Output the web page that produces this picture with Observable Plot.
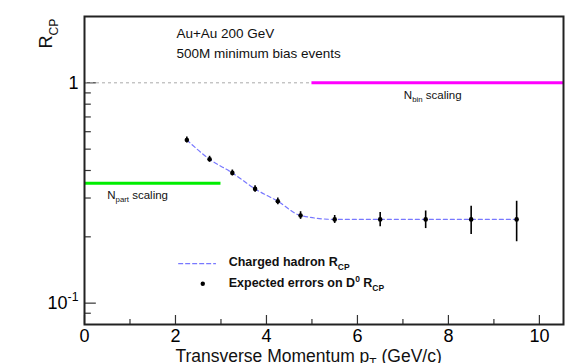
<!DOCTYPE html>
<html><head><meta charset="utf-8">
<script src="https://cdn.jsdelivr.net/npm/d3@7"></script>
<script src="https://cdn.jsdelivr.net/npm/@observablehq/plot@0.6"></script>
<style>body{margin:0;background:#fff;} svg{display:block;}</style>
</head><body><div id="chart"></div>
<script>
// ---- data ----
const pt   = [2.25, 2.75, 3.25, 3.75, 4.25, 4.75, 5.5, 6.5, 7.5, 8.5, 9.5];
const rcp  = [0.55, 0.45, 0.39, 0.33, 0.29, 0.25, 0.24, 0.24, 0.24, 0.24, 0.24];
const err  = [0.017, 0.014, 0.012, 0.011, 0.010, 0.010, 0.010, 0.018, 0.022, 0.035, 0.050];
const xTicksMajor = [0, 2, 4, 6, 8, 10];
const xTicksMinor = [1, 3, 5, 7, 9];
const yTicksMajor = [0.1, 1];
const yTicksMinor = [0.09, 0.2, 0.3, 0.4, 0.5, 0.6, 0.7, 0.8, 0.9];
const npartLevel = 0.35, npartFrom = 0, npartTo = 3;
const nbinLevel = 1, nbinFrom = 5, nbinTo = 10.53, refFrom = 0;
const xDomain = [0, 10.53];
const yDomain = [0.08, 2.0];

const data = pt.map((x, i) => ({x, y: rcp[i], e: err[i]}));

const font = "Liberation Sans, Arial, Helvetica, sans-serif";
const yMin = yDomain[0];
const logUp = (px) => yMin * Math.pow(10, px / 220); // tick length above the bottom frame

const plot = Plot.plot({
  width: 583, height: 363,
  marginLeft: 84, marginRight: 20, marginTop: 16, marginBottom: 39,
  style: {fontFamily: font, fontSize: "13px", background: "white", color: "black"},
  x: {domain: xDomain},
  y: {type: "log", domain: yDomain},
  marks: [
    // axes labels
    Plot.axisX({ticks: xTicksMajor, tickSize: 0, tickPadding: 5, fontSize: 18, label: null}),
    Plot.axisY({ticks: yTicksMajor, tickSize: 0, tickPadding: 6, fontSize: 18, label: null,
                tickFormat: d => d === 1 ? "1" : "10^{-1}"}),
    // inner ticks
    Plot.ruleY(yTicksMajor, {y: d => d, x1: 0, x2: 0.26, stroke: "#333", strokeWidth: 1.2}),
    Plot.ruleY(yTicksMinor, {y: d => d, x1: 0, x2: 0.15, stroke: "#333", strokeWidth: 1.2}),
    Plot.ruleX(xTicksMajor, {x: d => d, y1: yMin, y2: logUp(9), stroke: "#333", strokeWidth: 1.2}),
    Plot.ruleX(xTicksMinor, {x: d => d, y1: yMin, y2: logUp(5), stroke: "#333", strokeWidth: 1.2}),
    // reference lines
    Plot.ruleY([nbinLevel], {x1: refFrom, x2: nbinFrom, stroke: "#aaa", strokeDasharray: "3,3", strokeWidth: 1}),
    Plot.ruleY([nbinLevel], {x1: nbinFrom, x2: nbinTo, stroke: "#ff00ff", strokeWidth: 3}),
    Plot.ruleY([npartLevel], {x1: npartFrom, x2: npartTo, stroke: "#00ee00", strokeWidth: 3}),
    // charged hadron curve
    Plot.line(data, {x: "x", y: "y", curve: "monotone-x", stroke: "#7878ff", strokeDasharray: "4,3", strokeWidth: 1.2}),
    // expected errors
    Plot.ruleX(data, {x: "x", y1: d => d.y - d.e, y2: d => d.y + d.e, stroke: "black", strokeWidth: 1.6}),
    Plot.dot(data, {x: "x", y: "y", r: 2.3, fill: "black", stroke: "none"}),
    // annotations
    Plot.text(["Au+Au 200 GeV"], {x: 2.02, y: 1.68, textAnchor: "start", fontSize: 13.5, fill: "#111"}),
    Plot.text(["500M minimum bias events"], {x: 2.02, y: 1.36, textAnchor: "start", fontSize: 13.5, fill: "#111"}),
    Plot.text(["N_{part} scaling"], {x: 0.5, y: 0.31, textAnchor: "start", fontSize: 11.5, fill: "#111"}),
    Plot.text(["N_{bin} scaling"], {x: 7.02, y: 0.88, textAnchor: "start", fontSize: 11.5, fill: "#111"}),
    // legend
    Plot.line([[2.07, 0.151], [2.88, 0.151]], {stroke: "#7878ff", strokeDasharray: "4,3", strokeWidth: 1.2}),
    Plot.dot([[2.6, 0.1225]], {r: 2.2, fill: "black", stroke: "none"}),
    Plot.text(["Charged hadron R_{CP}"], {x: 3.17, y: 0.153, textAnchor: "start", fontSize: 12.5, fontWeight: "bold", fill: "#111"}),
    Plot.text(["Expected errors on D^{0} R_{CP}"], {x: 3.17, y: 0.1235, textAnchor: "start", fontSize: 12.5, fontWeight: "bold", fill: "#111"}),
    // axis titles
    Plot.text(["Transverse Momentum p_{T} (GeV/c)"], {x: 2.0, frameAnchor: "bottom", lineAnchor: "top", dy: 25, textAnchor: "start", fontSize: 17.5, fill: "#111"}),
    Plot.text(["R_{CP}"], {frameAnchor: "top-left", rotate: -90, textAnchor: "end", dx: -45, dy: 2, fontSize: 18, fill: "#111"}),
    Plot.frame({stroke: "#222", strokeWidth: 2})
  ]
});
document.getElementById("chart").appendChild(plot);

// turn _{..} and ^{..} into sub/superscript tspans
function richify(svg) {
  const NS = "http://www.w3.org/2000/svg";
  svg.querySelectorAll("text").forEach(t => {
    const els = t.querySelectorAll("tspan").length ? [...t.querySelectorAll("tspan")] : [t];
    els.forEach(el => {
      const s = el.textContent;
      if (!/[_^]\{/.test(s)) return;
      const fs = parseFloat(getComputedStyle(el).fontSize) || 12;
      el.textContent = "";
      let cur = 0;
      const add = (txt, off, small) => {
        const ts = document.createElementNS(NS, "tspan");
        ts.textContent = txt;
        const dy = off - cur;
        if (dy) ts.setAttribute("dy", dy.toFixed(2));
        if (small) ts.setAttribute("font-size", (fs * 0.68).toFixed(2));
        cur = off;
        el.appendChild(ts);
      };
      const re = /([_^])\{([^}]*)\}/g;
      let last = 0, m;
      while ((m = re.exec(s))) {
        if (m.index > last) add(s.slice(last, m.index), 0, false);
        add(m[2], m[1] === "_" ? 0.3 * fs : -0.42 * fs, true);
        last = re.lastIndex;
      }
      if (last < s.length) add(s.slice(last), 0, false);
    });
  });
}
richify(plot);
</script>
</body></html>
